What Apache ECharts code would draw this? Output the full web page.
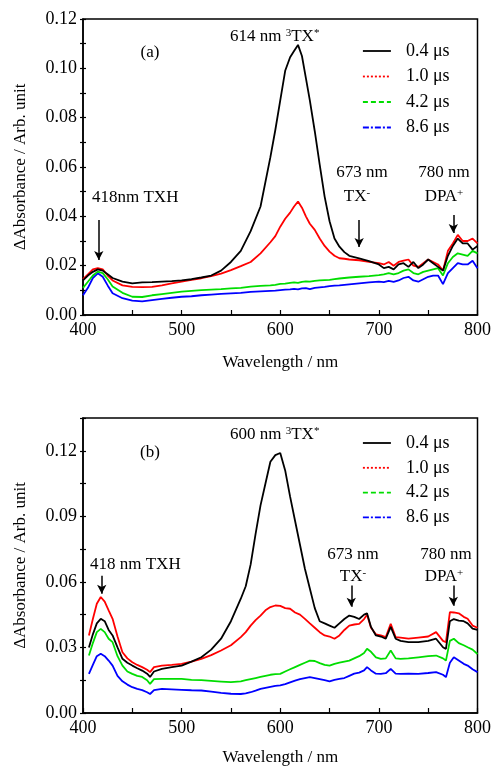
<!DOCTYPE html>
<html><head><meta charset="utf-8">
<script src="https://cdn.jsdelivr.net/npm/echarts@6/dist/echarts.min.js"></script>
<style>html,body{margin:0;padding:0;background:#fff}#c{width:494px;height:767px}</style>
</head><body><div id="c"></div>
<script>
// ---------- data ----------
const seriesNames = ['0.4 μs', '1.0 μs', '4.2 μs', '8.6 μs'];

// Panel (a)
const waveA = [400,405,410,415,420,425,430,440,450,460,470,480,490,500,510,520,530,540,550,560,570,580,590,595,600,605,610,614,618,622,626,630,635,640,645,650,655,660,665,670,680,690,700,705,710,715,720,725,730,735,740,745,750,755,760,765,770,775,780,785,790,795,800];
const a04 = [0.014,0.016,0.0175,0.0185,0.018,0.0165,0.015,0.0135,0.0128,0.0132,0.0133,0.0135,0.0137,0.014,0.0145,0.0152,0.016,0.018,0.0215,0.026,0.034,0.044,0.064,0.075,0.087,0.099,0.1045,0.107,0.1095,0.105,0.096,0.087,0.0745,0.061,0.048,0.038,0.031,0.0277,0.0255,0.024,0.023,0.0218,0.0205,0.019,0.0195,0.0185,0.0205,0.021,0.0195,0.0215,0.019,0.0205,0.0225,0.021,0.0195,0.018,0.024,0.028,0.031,0.029,0.029,0.0265,0.028];
const a10 = [0.0145,0.0165,0.0185,0.019,0.0185,0.016,0.014,0.012,0.0114,0.0113,0.0114,0.012,0.0128,0.0135,0.0142,0.0149,0.0158,0.0168,0.0182,0.0198,0.0215,0.025,0.0295,0.032,0.0358,0.039,0.0415,0.044,0.046,0.0435,0.040,0.037,0.0345,0.031,0.028,0.0257,0.024,0.023,0.0228,0.0225,0.0222,0.0215,0.021,0.0205,0.0215,0.020,0.0215,0.022,0.0225,0.020,0.0195,0.021,0.0225,0.0215,0.0205,0.018,0.026,0.029,0.0325,0.030,0.030,0.031,0.029];
const a42 = [0.011,0.0135,0.016,0.0176,0.017,0.0145,0.0116,0.009,0.0074,0.0073,0.008,0.0085,0.009,0.0095,0.0098,0.0101,0.0103,0.0105,0.0108,0.011,0.0115,0.0118,0.012,0.0122,0.0126,0.0127,0.013,0.0132,0.013,0.0134,0.0136,0.0135,0.0138,0.014,0.0141,0.0142,0.0145,0.0148,0.015,0.0152,0.0155,0.0158,0.0162,0.0165,0.017,0.0165,0.017,0.018,0.0185,0.017,0.0165,0.0175,0.018,0.0185,0.019,0.016,0.021,0.0235,0.025,0.0245,0.024,0.026,0.025];
const a86 = [0.008,0.011,0.015,0.0169,0.0155,0.012,0.0088,0.0068,0.0058,0.0055,0.006,0.0065,0.007,0.0074,0.0076,0.008,0.0083,0.0086,0.0088,0.009,0.0094,0.0096,0.0098,0.0099,0.0101,0.0103,0.0104,0.0106,0.0104,0.0108,0.0109,0.0105,0.011,0.0112,0.0114,0.0117,0.0119,0.012,0.0122,0.0124,0.0128,0.0132,0.0135,0.0133,0.0138,0.0134,0.014,0.015,0.0155,0.014,0.0135,0.0145,0.0155,0.016,0.016,0.0125,0.017,0.019,0.021,0.0205,0.0205,0.022,0.019];

// Panel (b)
const waveB = [406,410,414,418,422,426,430,435,440,445,450,455,460,465,468,472,480,490,500,510,520,530,540,550,560,565,570,575,580,585,590,595,600,605,610,615,620,625,630,635,640,645,650,655,660,665,670,675,680,685,688,692,697,702,707,712,717,722,730,740,750,758,765,768,772,776,781,786,790,795,800];
const b04 = [0.030,0.036,0.041,0.0431,0.042,0.038,0.0355,0.030,0.0248,0.023,0.0217,0.0205,0.0194,0.018,0.0165,0.019,0.0202,0.021,0.0217,0.0235,0.0255,0.029,0.034,0.042,0.0523,0.058,0.068,0.082,0.095,0.105,0.115,0.118,0.119,0.111,0.099,0.088,0.077,0.066,0.057,0.048,0.042,0.041,0.040,0.039,0.041,0.043,0.0446,0.044,0.043,0.045,0.0456,0.0394,0.0355,0.035,0.034,0.0394,0.034,0.033,0.0324,0.0324,0.033,0.034,0.0301,0.0293,0.042,0.043,0.0423,0.042,0.041,0.0386,0.038];
const b10 = [0.0355,0.043,0.050,0.0531,0.051,0.047,0.0431,0.035,0.0278,0.025,0.0232,0.022,0.021,0.0198,0.0187,0.021,0.0217,0.022,0.0225,0.0235,0.0248,0.0265,0.0286,0.031,0.0347,0.037,0.040,0.0425,0.0446,0.047,0.0485,0.0492,0.049,0.048,0.0477,0.046,0.045,0.0431,0.041,0.039,0.037,0.0355,0.035,0.034,0.0355,0.038,0.040,0.0405,0.0408,0.043,0.045,0.039,0.036,0.0355,0.0347,0.0408,0.0347,0.0345,0.034,0.0345,0.035,0.037,0.033,0.0324,0.0462,0.046,0.0456,0.044,0.0431,0.040,0.039];
const b42 = [0.0263,0.032,0.037,0.0385,0.037,0.034,0.0324,0.026,0.0217,0.019,0.0179,0.017,0.0165,0.015,0.0133,0.0155,0.0156,0.0156,0.0156,0.0152,0.015,0.0147,0.0144,0.0141,0.0145,0.015,0.0155,0.016,0.0165,0.017,0.0175,0.0178,0.0179,0.019,0.020,0.021,0.022,0.023,0.024,0.0238,0.0228,0.022,0.0217,0.0225,0.023,0.0235,0.024,0.025,0.026,0.0275,0.0294,0.028,0.0255,0.0248,0.025,0.0286,0.025,0.0248,0.025,0.0255,0.026,0.0263,0.025,0.024,0.033,0.034,0.032,0.031,0.0301,0.029,0.027];
const b86 = [0.0179,0.022,0.026,0.0271,0.026,0.024,0.0217,0.017,0.0145,0.013,0.0118,0.011,0.0105,0.0095,0.0087,0.0105,0.011,0.0108,0.0106,0.0104,0.0103,0.0098,0.0092,0.0088,0.0087,0.009,0.0095,0.0102,0.011,0.0115,0.012,0.0124,0.0126,0.0132,0.014,0.0148,0.0155,0.016,0.0164,0.016,0.0155,0.015,0.0145,0.0152,0.0156,0.016,0.017,0.018,0.0185,0.0195,0.021,0.0195,0.018,0.0179,0.0182,0.0202,0.018,0.0179,0.018,0.0179,0.0183,0.0187,0.0175,0.0164,0.023,0.0255,0.024,0.0225,0.0217,0.020,0.0187];

// axis ticks
const xTicks = [400, 500, 600, 700, 800];
const yTicksA = [0, 0.02, 0.04, 0.06, 0.08, 0.10, 0.12];
const yTicksB = [0, 0.03, 0.06, 0.09, 0.12];

// arrows [wavelength, yStart, yEnd]
const arrowsA = [[416, 0.0385, 0.0223], [680, 0.0385, 0.0276], [775.5, 0.0405, 0.0332]];
const arrowsB = [[419, 0.0628, 0.0546], [672, 0.0583, 0.0486], [775.5, 0.0583, 0.0491]];

// ---------- style ----------
const FONT = '"Liberation Serif", "Times New Roman", "DejaVu Serif", serif';
const colors = ['#000000', '#ff0000', '#00dd00', '#0000ff'];
const legendDash = ['solid', [2, 2], [5, 3], [6, 2, 2, 2]];

const chart = echarts.init(document.getElementById('c'), null, {renderer: 'canvas'});

const grids = [
  {left: 83, top: 19, width: 396, height: 296},
  {left: 83, top: 418, width: 396, height: 296}
];

function xAxisFor(gi) {
  return {
    type: 'value', gridIndex: gi, min: 400, max: 800, interval: 100,
    name: 'Wavelength / nm', nameLocation: 'middle', nameGap: gi === 0 ? 39 : 36,
    nameTextStyle: {fontFamily: FONT, fontSize: 17, color: '#000'},
    axisLine: {show: true, lineStyle: {color: '#000', width: 1.5}},
    axisTick: {show: true, inside: true, length: 5, lineStyle: {color: '#000', width: 1.2}},
    minorTick: {show: true, splitNumber: 2, length: 5, lineStyle: {color: '#000', width: 1.2}},
    axisLabel: {fontFamily: FONT, fontSize: 18, color: '#000', margin: 6,
      formatter: v => xTicks.includes(v) ? String(v) : ''},
    splitLine: {show: false}
  };
}
function yAxesFor(gi, max, interval, ticks) {
  const fmt = v => {
    const t = ticks.find(t => Math.abs(t - v) < 1e-9);
    return t === undefined ? '' : t.toFixed(2);
  };
  return [{
    type: 'value', gridIndex: gi, min: 0, max: max, interval: interval,
    name: 'ΔAbsorbance / Arb. unit', nameLocation: 'middle', nameGap: 54,
    nameTextStyle: {fontFamily: FONT, fontSize: 17, color: '#000'},
    axisLine: {show: true, lineStyle: {color: '#000', width: 1.5}},
    axisTick: {show: true, inside: true, length: 3, lineStyle: {color: '#000', width: 1.2}},
    minorTick: {show: true, splitNumber: 2, length: 3, lineStyle: {color: '#000', width: 1.2}},
    axisLabel: {fontFamily: FONT, fontSize: 18, color: '#000', margin: 6, formatter: fmt},
    splitLine: {show: false}
  }, {
    type: 'value', gridIndex: gi, min: 0, max: max, interval: interval, offset: 0, position: 'left',
    axisLine: {show: false},
    axisTick: {show: true, inside: false, length: 3, lineStyle: {color: '#000', width: 1.2}},
    minorTick: {show: true, splitNumber: 2, length: 3, lineStyle: {color: '#000', width: 1.2}},
    axisLabel: {show: false},
    splitLine: {show: false}
  }];
}

function buildSeries(gi, wave, arrs, arrows) {
  return arrs.map((vals, k) => {
    const s = {
      type: 'line', name: seriesNames[k], xAxisIndex: gi, yAxisIndex: gi * 2,
      data: wave.map((w, i) => [w, vals[i]]),
      showSymbol: false, symbol: 'none', smooth: false, animation: false,
      lineStyle: {color: colors[k], width: 1.8},
      itemStyle: {color: colors[k]},
      z: 10 - k
    };
    if (k === 0) {
      s.markLine = {
        silent: true, animation: false, symbol: ['none', 'arrow'], symbolSize: [7, 9],
        lineStyle: {color: '#000', width: 1.5, type: 'solid'},
        label: {show: false},
        data: arrows.map(a => [{coord: [a[0], a[1]]}, {coord: [a[0], a[2]]}])
      };
    }
    return s;
  });
}

function legendFor(top, gap) {
  return {
    orient: 'vertical', left: 362, top: top, padding: 0,
    itemWidth: 28, itemHeight: 14, itemGap: gap,
    textStyle: {fontFamily: FONT, fontSize: 18, color: '#000', padding: [0, 0, 0, 10]},
    itemStyle: {opacity: 0, color: 'transparent', borderWidth: 0},
    data: seriesNames.map((n, k) => ({
      name: n,
      lineStyle: {color: colors[k], width: 1.8, type: legendDash[k]},
      itemStyle: {opacity: 0, color: 'transparent', borderWidth: 0}
    }))
  };
}

const rich = {
  n: {fontFamily: FONT, fontSize: 17, color: '#000'},
  s: {fontFamily: FONT, fontSize: 11, color: '#000', verticalAlign: 'top', padding: [0, 0, 8, 0]}
};
function txt(x, y, text, align) {
  return {type: 'text', x: x, y: y, silent: true, z: 100,
    style: {text: text, rich: rich, align: align || 'left', verticalAlign: 'middle',
      font: '17px ' + FONT, fill: '#000'}};
}

const option = {
  animation: false,
  backgroundColor: '#fff',
  textStyle: {fontFamily: FONT},
  grid: grids.map(g => Object.assign({show: true, borderColor: '#000', borderWidth: 1.5, backgroundColor: 'transparent', containLabel: false}, g)),
  xAxis: [xAxisFor(0), xAxisFor(1)],
  yAxis: [...yAxesFor(0, 0.12, 0.02, yTicksA), ...yAxesFor(1, 0.135, 0.03, yTicksB)],
  legend: [legendFor(42, 7.5), legendFor(434, 6.8)],
  series: [
    ...buildSeries(0, waveA, [a04, a10, a42, a86], arrowsA),
    ...buildSeries(1, waveB, [b04, b10, b42, b86], arrowsB)
  ],
  graphic: [
    txt(150, 53, '{n|(a)}', 'center'),
    txt(230, 37, '{n|614 nm }{s|3}{n|TX}{s|*}'),
    txt(362, 173, '{n|673 nm}', 'center'),
    txt(357, 197, '{n|TX}{s|-}', 'center'),
    txt(444, 173, '{n|780 nm}', 'center'),
    txt(444, 197, '{n|DPA}{s|+}', 'center'),
    txt(92, 198, '{n|418nm TXH}'),
    txt(150, 453, '{n|(b)}', 'center'),
    txt(230, 435, '{n|600 nm }{s|3}{n|TX}{s|*}'),
    txt(353, 555, '{n|673 nm}', 'center'),
    txt(353, 577, '{n|TX}{s|-}', 'center'),
    txt(446, 555, '{n|780 nm}', 'center'),
    txt(444, 577, '{n|DPA}{s|+}', 'center'),
    txt(90, 565, '{n|418 nm TXH}')
  ]
};
chart.setOption(option);
</script>
</body></html>
